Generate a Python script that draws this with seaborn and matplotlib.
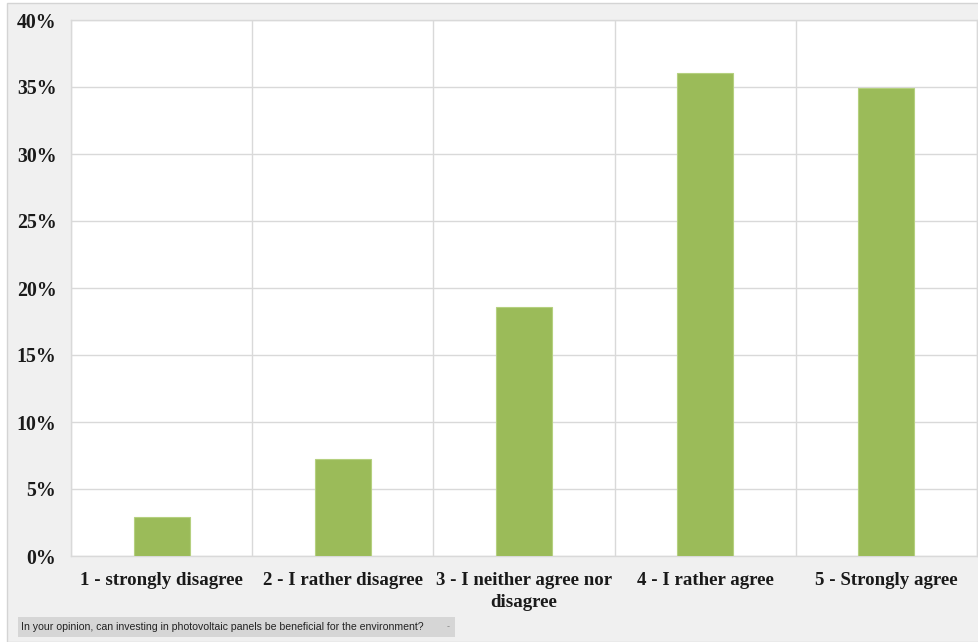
import matplotlib
matplotlib.use("Agg")
import matplotlib.pyplot as plt
import seaborn as sns
import pandas as pd
from matplotlib.patches import Rectangle
from matplotlib.ticker import FuncFormatter, MultipleLocator, FixedLocator

categories = ["1 - strongly disagree", "2 - I rather disagree",
              "3 - I neither agree nor\ndisagree", "4 - I rather agree",
              "5 - Strongly agree"]
values = [2.9, 7.25, 18.6, 36.05, 34.95]
caption = "In your opinion, can investing in photovoltaic panels be beneficial for the environment?"

df = pd.DataFrame({"category": categories, "value": values})

sns.set_style("white")
W, H = 979, 642
fig = plt.figure(figsize=(W / 100, H / 100), dpi=100)
fig.patch.set_facecolor("white")

# grey panel background with border
bg = Rectangle((7 / W, 0), (W - 7) / W, (H - 3) / H,
               transform=fig.transFigure, facecolor="#f0f0f0",
               edgecolor="#d4d4d4", linewidth=1.0, zorder=-10)
fig.add_artist(bg)

ax = fig.add_axes([71 / W, 1 - 556 / H, (977 - 71) / W, (556 - 20) / H])
ax.set_zorder(5)
ax.set_facecolor("white")

sns.barplot(data=df, x="category", y="value", color="#9bbb59",
            width=0.31, edgecolor="#b5d07f", linewidth=0.8, ax=ax, zorder=3,
            saturation=1)

ax.set_ylim(0, 40)
ax.set_xlim(-0.5, len(categories) - 0.5)
ax.yaxis.set_major_locator(MultipleLocator(5))
ax.yaxis.set_major_formatter(FuncFormatter(lambda v, p: f"{v:.0f}%"))
ax.xaxis.set_minor_locator(FixedLocator([i + 0.5 for i in range(-1, len(categories))]))
ax.grid(axis="y", which="major", color="#d9d9d9", linewidth=1.0, zorder=0)
ax.grid(axis="x", which="minor", color="#d9d9d9", linewidth=1.0, zorder=0)
ax.set_axisbelow(True)
for s in ax.spines.values():
    s.set_color("#d9d9d9")
    s.set_linewidth(1.0)

ax.set_xlabel("")
ax.set_ylabel("")
ax.tick_params(axis="both", which="both", length=0)
ax.tick_params(axis="y", pad=10.5)
ax.tick_params(axis="x", pad=11.5)
for lbl in ax.get_yticklabels():
    lbl.set_fontfamily("Liberation Serif")
    lbl.set_fontweight("bold")
    lbl.set_fontsize(14.3)
    lbl.set_color("#1a1a1a")
for lbl in ax.get_xticklabels():
    lbl.set_fontfamily("Liberation Serif")
    lbl.set_fontweight("bold")
    lbl.set_fontsize(13.6)
    lbl.set_color("#1a1a1a")
    lbl.set_linespacing(1.35)

# caption box
cap_box = Rectangle((18 / W, 1 - 637 / H), (455 - 18) / W, 20 / H,
                    transform=fig.transFigure, facecolor="#d6d6d6",
                    edgecolor="none", zorder=1)
fig.add_artist(cap_box)
fig.text(21 / W, 1 - 627 / H, caption, fontsize=7.6, family="Liberation Sans",
         color="#222222", va="center", ha="left", zorder=2)
fig.text(448 / W, 1 - 627 / H, "-", fontsize=6, family="DejaVu Sans",
         color="#888888", va="center", ha="center", zorder=2)

fig.savefig("out.png", dpi=100, facecolor=fig.get_facecolor())
